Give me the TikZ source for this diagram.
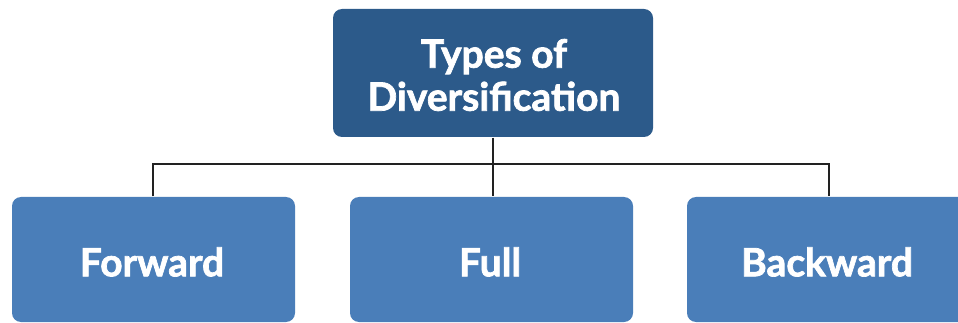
\documentclass[tikz,border=0pt]{standalone}
\usepackage{fontspec}
\setmainfont{Lato}
\newfontfamily\heavyfont{Lato}[BoldFeatures={FakeBold=1.8}]
\definecolor{topblue}{HTML}{2C5A8A}
\definecolor{subblue}{HTML}{4A7EB9}
\definecolor{linkgray}{HTML}{222222}
\tikzset{
  rootbox/.style={fill=topblue, rounded corners=9pt, draw=none},
  leafbox/.style={fill=subblue, rounded corners=9pt, draw=none},
  boxtext/.style={text=white, align=center, inner sep=0pt},
  link/.style={draw=linkgray, line width=1.8pt}
}
\begin{document}
\begin{tikzpicture}[x=1pt, y=-1pt]
  \useasboundingbox (0,0) rectangle (958,323);
  % boxes
  \path[rootbox] (333,9) rectangle (653,137);
  \path[leafbox] (12,197) rectangle (295,322);
  \path[leafbox] (350,197) rectangle (633,322);
  \path[leafbox] (687,197) rectangle (972,322);
  % anchors for the tree
  \node[inner sep=0] (root) at (493,137) {};
  \node[inner sep=0] (fwd) at (153,197) {};
  \node[inner sep=0] (full) at (493,197) {};
  \node[inner sep=0] (bwd) at (829,197) {};
  \coordinate (hubL) at (153,164);
  \coordinate (hubR) at (829,164);
  % connectors
  \draw[link] (root) -- (full);
  \draw[link] (fwd) -- (hubL) -- (hubR) -- (bwd);
  % labels
  \node[boxtext, font=\heavyfont\fontsize{39}{43}\selectfont\bfseries] (roottext) at (494,75) {Types of\\Diversification};
  \node[boxtext, font=\heavyfont\fontsize{39}{44}\selectfont\bfseries] (fwdtext) at (152,262) {Forward};
  \node[boxtext, font=\heavyfont\fontsize{39}{44}\selectfont\bfseries] (fulltext) at (490,262) {Full};
  \node[boxtext, font=\heavyfont\fontsize{39}{44}\selectfont\bfseries] (bwdtext) at (827,262) {Backward};
\end{tikzpicture}
\end{document}
